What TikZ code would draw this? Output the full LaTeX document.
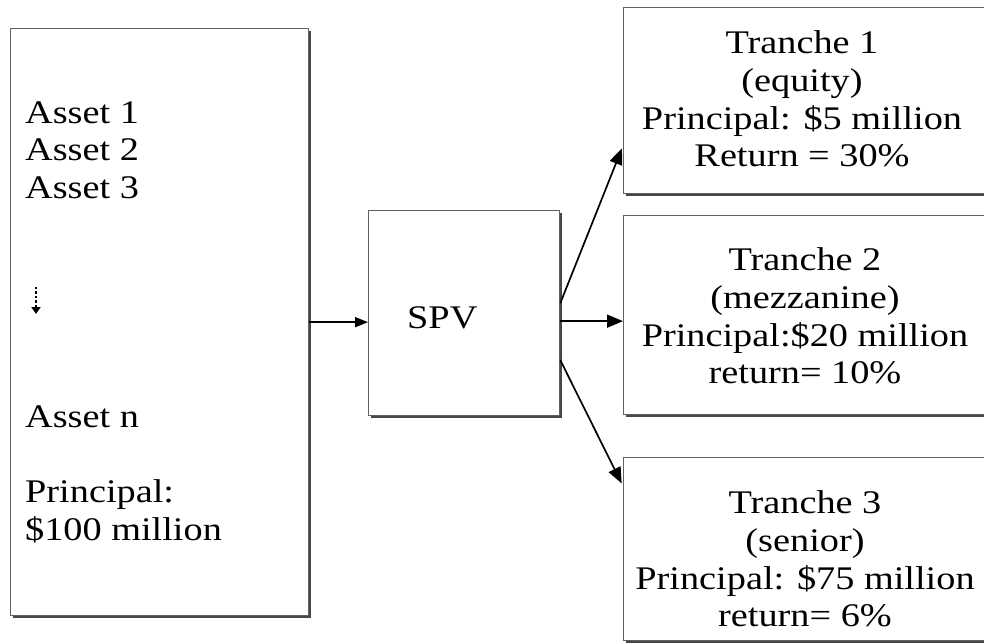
\documentclass[tikz,border=0pt]{standalone}
\usepackage{fontspec}
\setmainfont{Liberation Serif}[FakeStretch=1.16]
\usetikzlibrary{arrows.meta,shadows}
\begin{document}
\begin{tikzpicture}[x=1pt,y=-1pt,
  box/.style={draw=black!62, line width=1.3pt, fill=white, inner sep=0pt, anchor=north west,
     drop shadow={shadow xshift=2pt, shadow yshift=-2pt, fill=black!72, opacity=1}},
  txt/.style={inner sep=0pt, font=\fontsize{33}{37.7}\selectfont},
  arr/.style={line width=1.7pt, -{Triangle[length=16pt,width=13pt]}},
  arrs/.style={line width=1.7pt, -{Triangle[length=13pt,width=10pt]}},
]
\useasboundingbox (0,0) rectangle (984,643);
% boxes
\node[box, minimum width=298pt, minimum height=587pt] (assets) at (10,28) {};
\node[box, minimum width=191pt, minimum height=205pt] (spv) at (368,210) {};
\node[box, minimum width=363pt, minimum height=186pt] (t1) at (623,7) {};
\node[box, minimum width=363pt, minimum height=199pt] (t2) at (623,215) {};
\node[box, minimum width=363pt, minimum height=183pt] (t3) at (623,457) {};
% asset texts
\node[txt, anchor=base west] (a1) at (25,123) {Asset 1};
\node[txt, anchor=base west] (a2) at (25,160) {Asset 2};
\node[txt, anchor=base west] (a3) at (25,198) {Asset 3};
\coordinate (dotA) at (36,287);
\coordinate (dotB) at (36,314);
\draw[line width=2.6pt, dash pattern=on 2.4pt off 2pt, -{Triangle[length=7pt,width=9pt]}] (dotA) -- (dotB);
\node[txt, anchor=base west] (an) at (25,427) {Asset n};
\node[txt, anchor=base west] (p1) at (25,502) {Principal:};
\node[txt, anchor=base west] (p2) at (25,540) {\$100 million};
% SPV
\node[txt, anchor=base west] (spvl) at (407,328) {SPV};
% tranche texts
\node[txt, align=center, anchor=north] (l1) at (802,30.5)
  {Tranche 1\\(equity)\\Principal: \$5 million\\Return = 30\%};
\node[txt, align=center, anchor=north] (l2) at (805,247.5)
  {Tranche 2\\(mezzanine)\\Principal:\$20 million\\return= 10\%};
\node[txt, align=center, anchor=north] (l3) at (805,490.5)
  {Tranche 3\\(senior)\\Principal: \$75 million\\return= 6\%};
% connectors
\draw[arrs] (assets.east) -- (assets.east -| spv.west);
\draw[arr] ([yshift=-8pt]spv.east) -- ([yshift=-8pt]spv.east -| t2.west);
\draw[arr, shorten >=3pt] ([yshift=10pt]spv.east) -- ([yshift=-45pt]t1.west);
\draw[arr, shorten >=3pt] ([yshift=-47pt]spv.east) -- ([yshift=63pt]t3.west);
\end{tikzpicture}
\end{document}
